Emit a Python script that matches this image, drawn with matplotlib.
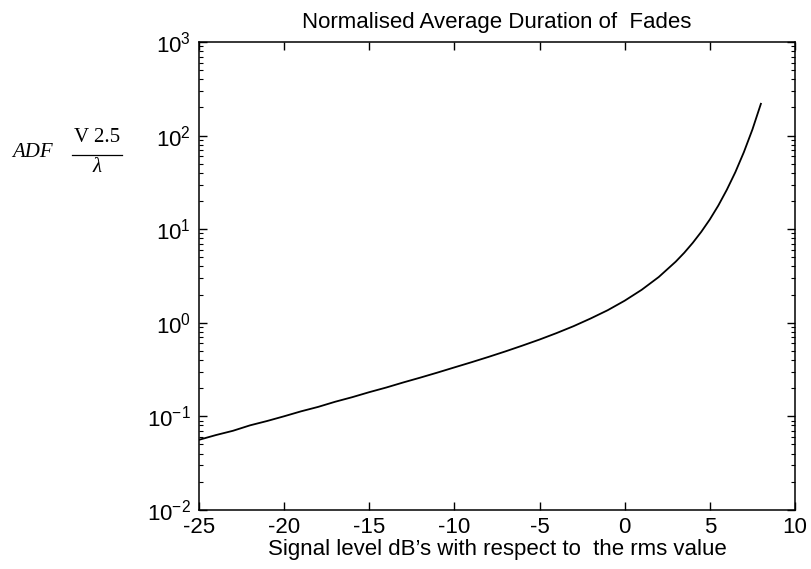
import matplotlib
matplotlib.use("Agg")
import matplotlib.pyplot as plt
from matplotlib.lines import Line2D
from matplotlib.ticker import LogLocator, NullFormatter

plt.rcParams["font.family"] = ["Liberation Sans", "DejaVu Sans"]
plt.rcParams["mathtext.fontset"] = "custom"
plt.rcParams["mathtext.rm"] = "Liberation Sans"
plt.rcParams["mathtext.it"] = "Liberation Sans:italic"

# signal level (dB re rms) and normalised average duration of fades
signal_db = [-25, -24, -23, -22, -21, -20, -19, -18, -17, -16, -15, -14, -13,
             -12, -11, -10, -9, -8, -7, -6, -5, -4, -3, -2, -1, 0, 1, 2, 3,
             3.5, 4, 4.5, 5, 5.5, 6, 6.5, 7, 7.5, 8]
adf = [0.056, 0.063, 0.070, 0.080, 0.089, 0.100, 0.113, 0.126, 0.143, 0.160,
       0.181, 0.203, 0.230, 0.259, 0.293, 0.333, 0.378, 0.431, 0.494, 0.570,
       0.661, 0.775, 0.919, 1.11, 1.36, 1.72, 2.25, 3.08, 4.50,
       5.60, 7.15, 9.38, 12.7, 17.9, 26.4, 40.7, 66.6, 116, 219]

x_ticks = [-25, -20, -15, -10, -5, 0, 5, 10]

fig = plt.figure(figsize=(8.12, 5.69), dpi=100)
ax = fig.add_axes([0.245, 0.104, 0.734, 0.822])

ax.semilogy(signal_db, adf, color="black", linewidth=1.3)

ax.set_xlim(-25, 10)
ax.set_ylim(1e-2, 1e3)
ax.set_xticks(x_ticks)
ax.set_xticklabels([str(t) for t in x_ticks])
ax.yaxis.set_minor_locator(LogLocator(base=10, subs=range(2, 10), numticks=20))
ax.yaxis.set_minor_formatter(NullFormatter())

ax.tick_params(which="both", direction="in", top=True, right=True,
               labelsize=16, colors="black")
ax.tick_params(which="major", length=6, width=1)
ax.tick_params(which="minor", length=3, width=0.8)
ax.tick_params(axis="x", pad=5)
ax.tick_params(axis="y", pad=6)
for s in ax.spines.values():
    s.set_linewidth(1.1)

ax.set_title("Normalised Average Duration of  Fades", fontsize=16, pad=10)
ax.set_xlabel("Signal level dB\u2019s with respect to  the rms value",
              fontsize=16, labelpad=1)

# y-axis label drawn as ADF  (V 2.5)/lambda
serif = ["Liberation Serif", "DejaVu Serif"]
fig.text(12 / 812, 1 - 152 / 569, "ADF", family=serif, style="italic",
         fontsize=15, ha="left", va="center")
fig.text(97 / 812, 1 - 138 / 569, "V 2.5", family=serif, fontsize=15,
         ha="center", va="center")
fig.text(97 / 812, 1 - 168 / 569, "\u03bb", family=serif, style="italic",
         fontsize=15, ha="center", va="center")
fig.add_artist(Line2D([72 / 812, 122 / 812], [1 - 155 / 569, 1 - 155 / 569],
                      color="black", linewidth=0.9, transform=fig.transFigure))

fig.savefig("out.png", dpi=100)
